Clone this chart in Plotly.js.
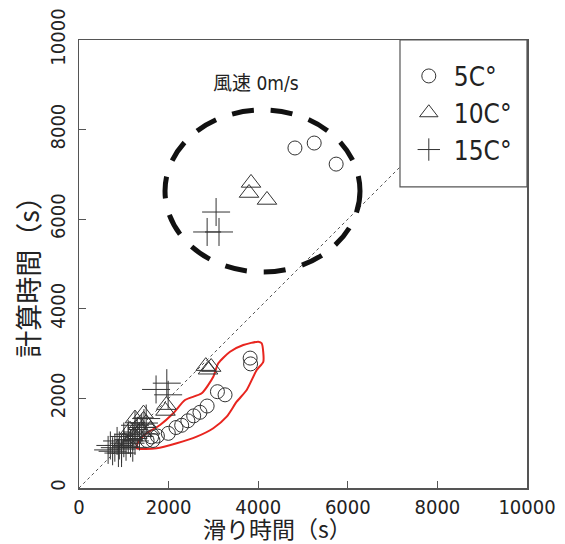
<!DOCTYPE html>
<html>
<head>
<meta charset="utf-8">
<script src="https://cdn.plot.ly/plotly-3.0.1.min.js"></script>
<style>html,body{margin:0;padding:0;background:#fff;}</style>
</head>
<body>
<div id="chart" style="width:565px;height:544px;"></div>
<script>
// 5C° series (circles)
var c5x = [4820, 5250, 5740, 3820, 3830, 3090, 3260, 2860, 2700, 2560, 2430, 2292, 2165, 1994, 1750, 1620, 1520, 1650];
var c5y = [7590, 7700, 7230, 2900, 2770, 2150, 2080, 1830, 1690, 1610, 1500, 1400, 1350, 1220, 1160, 1140, 1060, 1060];
// 10C° series (triangles)
var c10x = [3840, 3795, 4196, 2830, 2950, 2880, 1950, 1930, 1440, 1440, 1320, 1590, 1140, 1210, 1000, 1300, 1500, 1100, 1400, 1250];
var c10y = [6810, 6585, 6430, 2720, 2700, 2640, 1850, 1720, 1660, 1520, 1400, 1300, 1300, 1150, 1050, 1200, 1450, 1000, 1250, 1550];
// 15C° series (pluses)
var c15x = [3060, 2860, 3125, 1720, 1960, 1990, 650, 750, 800, 880, 900, 950, 1000, 1050, 1100, 1150, 1200, 1250, 1300, 1350, 1400, 1450, 1100, 850, 1000, 1250, 700, 1200, 950, 1500];
var c15y = [6160, 5715, 5715, 2200, 2340, 2080, 850, 820, 900, 780, 950, 870, 1000, 920, 1080, 1000, 1150, 1050, 1250, 1150, 1350, 1450, 1200, 1050, 1150, 1400, 950, 900, 780, 1550];
// red outline around the lower 5C° group
var redX = [1288, 1734, 2181, 2627, 2998, 3297, 3520, 3743, 3967, 4114, 4078, 4002, 3667, 3371, 3109, 2998, 2739, 2366, 2105, 1808, 1511, 1324, 1288];
var redY = [886, 886, 998, 1145, 1333, 1592, 1926, 2188, 2634, 2819, 3230, 3266, 3192, 3042, 2783, 2484, 2114, 1964, 1667, 1406, 1221, 1033, 886];
// reference line y = x
var refX = [0, 10000];
var refY = [0, 10000];
// dashed ellipse bounds (data units)
var ellX = [1920, 6272];
var ellY = [4821, 8437];
var tickVals = [0, 2000, 4000, 6000, 8000, 10000];
var tickText = ['0', '2000', '4000', '6000', '8000', '10000'];
var legendNames = ['5C°', '10C°', '15C°'];

var narrow = 'DejaVu Sans Condensed, Noto Sans CJK JP, sans-serif';
var cjk = 'Noto Sans CJK JP, sans-serif';
var mk = '#333';

var traces = [
  {x: refX, y: refY, mode: 'lines', line: {color: '#555', width: 1, dash: 'dot'}, showlegend: false, hoverinfo: 'skip'},
  {x: redX, y: redY, mode: 'lines', line: {color: '#e8251f', width: 2, shape: 'spline', smoothing: 0.6}, showlegend: false, hoverinfo: 'skip'},
  {x: c5x, y: c5y, mode: 'markers', name: legendNames[0],
   marker: {symbol: 'circle-open', size: 14, color: mk, line: {width: 1, color: mk}}},
  {x: c10x, y: c10y, mode: 'markers', name: legendNames[1],
   marker: {symbol: 'triangle-up-open', size: 17, color: mk, line: {width: 1, color: mk}}},
  {x: c15x, y: c15y, mode: 'markers', name: legendNames[2],
   marker: {symbol: 'cross-thin-open', size: 20, color: mk, line: {width: 1, color: mk}}}
];

var layout = {
  width: 565, height: 544,
  margin: {l: 79, r: 38, t: 40, b: 56},
  paper_bgcolor: '#fff', plot_bgcolor: '#fff',
  showlegend: true,
  legend: {x: 0.725, y: 0.972, xanchor: 'left', yanchor: 'top', bgcolor: 'rgba(0,0,0,0)', borderwidth: 0,
           font: {family: narrow, size: 26, color: '#222'}, itemwidth: 40},
  xaxis: {range: [0, 10000], tickvals: tickVals, ticktext: tickText, ticks: 'inside', ticklen: 7, tickcolor: '#555',
          showline: true, linecolor: '#555', linewidth: 1.5, mirror: true, showgrid: false, zeroline: false,
          tickfont: {family: narrow, size: 20, color: '#222'}, fixedrange: true},
  yaxis: {range: [0, 10000], tickvals: tickVals, ticktext: tickText, ticks: 'inside', ticklen: 7, tickcolor: '#555',
          showline: true, linecolor: '#555', linewidth: 1.5, mirror: true, showgrid: false, zeroline: false,
          ticklabelstandoff: 5,
          tickangle: -90, tickfont: {family: narrow, size: 20, color: '#222'}, fixedrange: true},
  shapes: [
    {type: 'circle', xref: 'x', yref: 'y', x0: ellX[0], x1: ellX[1], y0: ellY[0], y1: ellY[1],
     line: {color: '#111', width: 5, dash: '22px,17px'}},
    {type: 'rect', xref: 'paper', yref: 'paper', x0: 0.7165, x1: 1, y0: 0.672, y1: 1,
     fillcolor: '#fff', line: {color: '#555', width: 1.2}, layer: 'above'}
  ],
  annotations: [
    {text: '風速 0m/s', xref: 'paper', yref: 'paper', x: 0.395, y: 0.904, xanchor: 'center', yanchor: 'middle',
     showarrow: false, font: {family: narrow, size: 19, color: '#222'}},
    {text: '滑り時間（s）', xref: 'paper', yref: 'paper', x: 0.444, y: -0.09, xanchor: 'center', yanchor: 'middle',
     showarrow: false, font: {family: cjk, size: 23, color: '#222'}},
    {text: '計算時間（s）', xref: 'paper', yref: 'paper', x: -0.114, y: 0.487, xanchor: 'center', yanchor: 'middle',
     textangle: -90, showarrow: false, font: {family: cjk, size: 27, color: '#222'}}
  ]
};

Plotly.newPlot('chart', traces, layout, {displayModeBar: false, staticPlot: true});
</script>
</body>
</html>
